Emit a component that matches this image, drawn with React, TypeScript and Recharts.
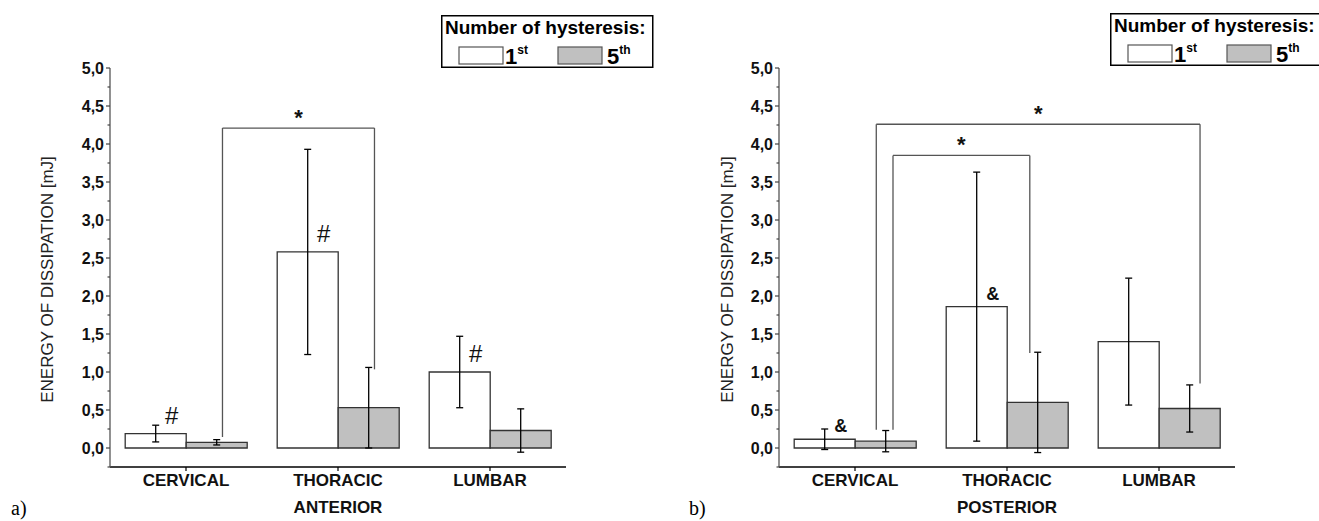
import React from 'react';
import { ComposedChart, Bar, XAxis, YAxis, ErrorBar, ReferenceLine, LabelList, Label } from 'recharts';

const FONT = "'Liberation Sans', Arial, Helvetica, sans-serif";

const categories = ['CERVICAL', 'THORACIC', 'LUMBAR'];
// slot index of each category on the hidden linear axis used for the brackets
const slots = [0.5, 1.5, 2.5];

// a) anterior
const anteriorFirst = [0.19, 2.58, 1.0];
const anteriorFirstErr = [0.11, 1.35, 0.47];
const anteriorFifth = [0.075, 0.53, 0.23];
const anteriorFifthErr = [0.035, 0.53, 0.285];
const anteriorMarks = ['#', '#', '#'];

// b) posterior
const posteriorFirst = [0.115, 1.86, 1.4];
const posteriorFirstErr = [0.135, 1.77, 0.835];
const posteriorFifth = [0.09, 0.6, 0.52];
const posteriorFifthErr = [0.14, 0.66, 0.31];
const posteriorMarks = ['&', '&', ''];

const majorTicks = [0, 0.5, 1, 1.5, 2, 2.5, 3, 3.5, 4, 4.5, 5];
const minorTicks = [-0.25, 0.25, 0.75, 1.25, 1.75, 2.25, 2.75, 3.25, 3.75, 4.25, 4.75];
const yTicks = [...minorTicks, ...majorTicks].sort((a, b) => a - b);

// significance brackets: x in category units along the axis (0..3), y in mJ
const anteriorBrackets = [{ from: 0.74, to: 1.74, top: 4.21, leftEnd: 0.145, rightEnd: 1.035 }];
const posteriorBrackets = [
  { from: 0.75, to: 1.65, top: 3.85, leftEnd: 0.24, rightEnd: 1.25 },
  { from: 0.64, to: 2.77, top: 4.26, leftEnd: 0.24, rightEnd: 0.85 },
];

const buildRows = (first: number[], firstErr: number[], fifth: number[], fifthErr: number[], marks: string[]) =>
  categories.map((cat, i) => ({
    cat,
    slot: slots[i],
    first: first[i],
    firstErr: firstErr[i],
    fifth: fifth[i],
    fifthErr: fifthErr[i],
    mark: marks[i],
  }));

const anteriorData = buildRows(anteriorFirst, anteriorFirstErr, anteriorFifth, anteriorFifthErr, anteriorMarks);
const posteriorData = buildRows(posteriorFirst, posteriorFirstErr, posteriorFifth, posteriorFifthErr, posteriorMarks);

const YTick = (props: any) => {
  const { x, y, payload } = props;
  const major = majorTicks.includes(payload.value);
  return (
    <g>
      <line x1={x - (major ? 4 : 2.5)} x2={x} y1={y} y2={y} stroke="#444" strokeWidth={1.2} />
      {major && (
        <text x={x - 6} y={y} dy="0.36em" textAnchor="end" fontSize={16} fontWeight="bold" fill="#111" fontFamily={FONT}>
          {payload.value.toFixed(1).replace('.', ',')}
        </text>
      )}
    </g>
  );
};

const XTick = (props: any) => {
  const { x, y, payload } = props;
  return (
    <text x={x} y={y + 13} textAnchor="middle" fontSize={17} fontWeight="bold" fill="#111" fontFamily={FONT}>
      {payload.value}
    </text>
  );
};

const Star = (p: any) => {
  const vb = p.viewBox;
  return (
    <text x={vb.x + vb.width / 2} y={vb.y - 3} textAnchor="middle" fontSize={22} fontWeight="bold" fill="#111" fontFamily={FONT}>
      *
    </text>
  );
};

interface IPanel {
  data: any[];
  brackets: typeof anteriorBrackets;
  xTitle: string;
  width: number;
  yAxisWidth: number;
  marginRight: number;
  yTitleX: number;
  markSize: number;
  markWeight: string;
  markLift: number;
}

const Panel = ({ data, brackets, xTitle, width, yAxisWidth, marginRight, yTitleX, markSize, markWeight, markLift }: IPanel) => {
  const lineStyle = { stroke: '#555', strokeWidth: 1.3, ifOverflow: 'visible' as const };
  return (
    <ComposedChart
      width={width}
      height={521}
      data={data}
      margin={{ top: 68, right: marginRight, bottom: 0, left: 0 }}
      barCategoryGap="10%"
      barGap={0}
    >
      <XAxis
        dataKey="cat"
        height={54}
        tick={<XTick />}
        tickSize={4}
        tickMargin={2}
        axisLine={{ stroke: '#000', strokeWidth: 1.5 }}
        tickLine={{ stroke: '#000', strokeWidth: 1.2 }}
      >
        <Label
          content={(p: any) => {
            const vb = p.viewBox;
            return (
              <text x={vb.x + vb.width / 2} y={513} textAnchor="middle" fontSize={17} fontWeight="bold" fill="#111" fontFamily={FONT}>
                {xTitle}
              </text>
            );
          }}
        />
      </XAxis>
      <XAxis xAxisId="num" dataKey="slot" type="number" scale="linear" domain={[0, 3]} allowDataOverflow hide />
      <YAxis
        width={yAxisWidth}
        domain={[-0.25, 5]}
        ticks={yTicks}
        interval={0}
        allowDataOverflow
        tick={<YTick />}
        tickLine={false}
        tickSize={0}
        tickMargin={0}
        axisLine={{ stroke: '#555', strokeWidth: 1.3 }}
      >
        <Label
          content={(p: any) => {
            const vb = p.viewBox;
            const cy = vb.y + vb.height / 2 + 12;
            return (
              <text
                x={yTitleX}
                y={cy}
                transform={`rotate(-90 ${yTitleX} ${cy})`}
                textAnchor="middle"
                dominantBaseline="central"
                fontSize={17}
                fill="#222"
                fontFamily={FONT}
              >
                ENERGY OF DISSIPATION [mJ]
              </text>
            );
          }}
        />
      </YAxis>
      <Bar dataKey="first" fill="#fff" stroke="#333" strokeWidth={1.3} isAnimationActive={false}>
        <ErrorBar dataKey="firstErr" width={3.5} stroke="#000" strokeWidth={1.3} />
        <LabelList
          dataKey="mark"
          content={(p: any) =>
            p.value ? (
              <text
                x={p.x + p.width / 2 + 16}
                y={p.y - markLift}
                textAnchor="middle"
                fontSize={markSize}
                fontWeight={markWeight}
                fill="#111"
                fontFamily={FONT}
              >
                {p.value}
              </text>
            ) : null
          }
        />
      </Bar>
      <Bar dataKey="fifth" fill="#c0c0c0" stroke="#333" strokeWidth={1.3} isAnimationActive={false}>
        <ErrorBar dataKey="fifthErr" width={3.5} stroke="#000" strokeWidth={1.3} />
      </Bar>
      {brackets.map((b, i) => (
        <React.Fragment key={i}>
          <ReferenceLine xAxisId="num" segment={[{ x: b.from, y: b.leftEnd }, { x: b.from, y: b.top }]} {...lineStyle} />
          <ReferenceLine xAxisId="num" segment={[{ x: b.from, y: b.top }, { x: b.to, y: b.top }]} {...lineStyle} label={Star} />
          <ReferenceLine xAxisId="num" segment={[{ x: b.to, y: b.top }, { x: b.to, y: b.rightEnd }]} {...lineStyle} />
        </React.Fragment>
      ))}
    </ComposedChart>
  );
};

const LegendBox = ({ left, top }: { left: number; top: number }) => (
  <svg width={216} height={56} style={{ position: 'absolute', left, top, overflow: 'visible' }}>
    <rect x={0.75} y={0.75} width={211} height={51.5} fill="#fff" stroke="#000" strokeWidth={1.5} />
    <text x={4} y={19} fontSize={19} fontWeight="bold" fill="#000" fontFamily={FONT}>
      Number of hysteresis:
    </text>
    <rect x={18} y={32} width={44} height={17} fill="#fff" stroke="#555" strokeWidth={1.2} />
    <text x={64} y={49} fontSize={22} fontWeight="bold" fill="#000" fontFamily={FONT}>
      1<tspan fontSize={12} dy={-10}>st</tspan>
    </text>
    <rect x={117} y={32} width={44} height={17} fill="#c0c0c0" stroke="#555" strokeWidth={1.2} />
    <text x={166} y={49} fontSize={22} fontWeight="bold" fill="#000" fontFamily={FONT}>
      5<tspan fontSize={12} dy={-10}>th</tspan>
    </text>
  </svg>
);

const panelTag = (text: string, left: number) => (
  <div
    style={{
      position: 'absolute',
      left,
      top: 498,
      fontSize: 20,
      lineHeight: '20px',
      fontFamily: "'Liberation Serif', 'Times New Roman', serif",
      color: '#000',
    }}
  >
    {text}
  </div>
);

export default function App() {
  return (
    <div style={{ position: 'absolute', left: 0, top: 0, width: 1319, height: 521, overflow: 'hidden', background: '#fff' }}>
      <div style={{ position: 'absolute', left: 0, top: 0 }}>
        <Panel
          data={anteriorData}
          brackets={anteriorBrackets}
          xTitle="ANTERIOR"
          width={660}
          yAxisWidth={110}
          marginRight={94}
          yTitleX={47}
          markSize={24}
          markWeight="normal"
          markLift={10}
        />
      </div>
      <div style={{ position: 'absolute', left: 660, top: 0 }}>
        <Panel
          data={posteriorData}
          brackets={posteriorBrackets}
          xTitle="POSTERIOR"
          width={659}
          yAxisWidth={119}
          marginRight={84}
          yTitleX={67}
          markSize={18}
          markWeight="bold"
          markLift={7}
        />
      </div>
      <LegendBox left={441} top={15} />
      <LegendBox left={1110} top={13} />
      {panelTag('a)', 11)}
      {panelTag('b)', 689)}
    </div>
  );
}
